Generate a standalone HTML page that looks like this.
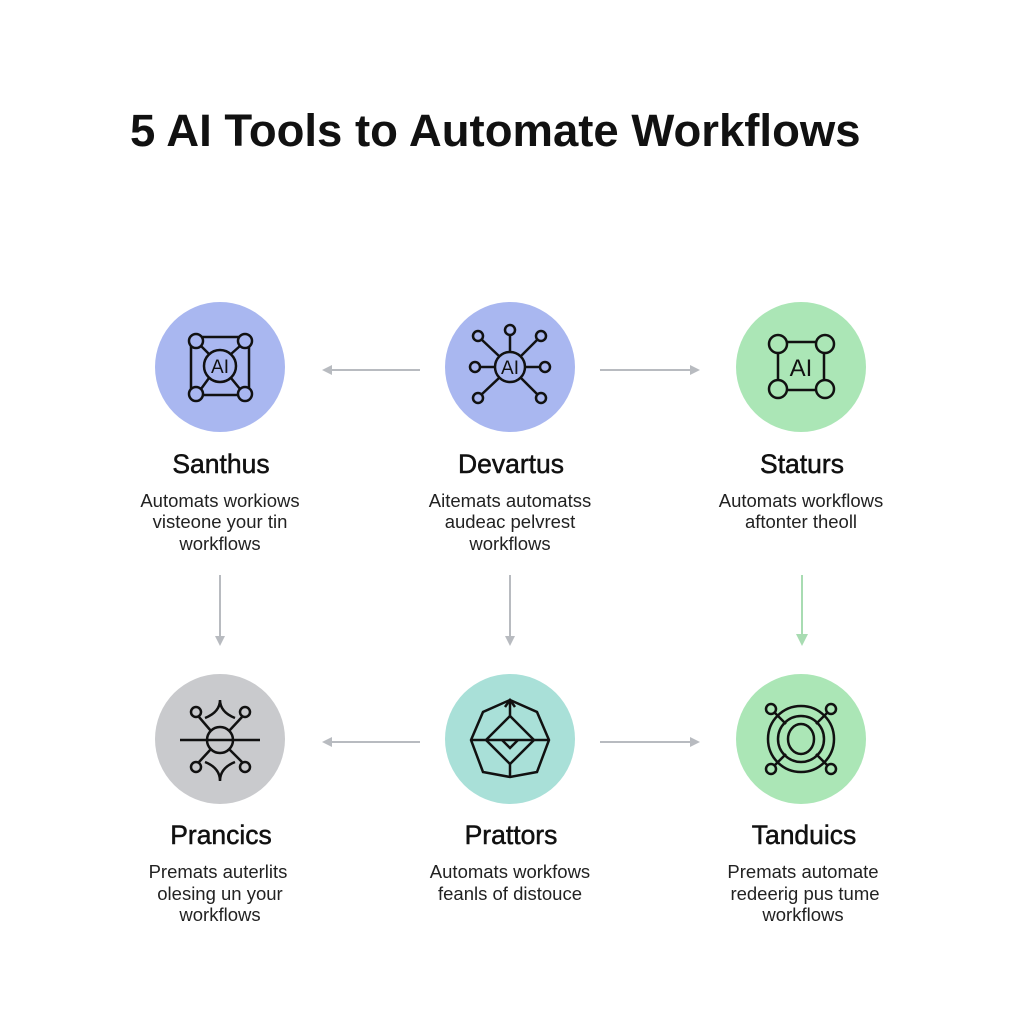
<!DOCTYPE html>
<html><head><meta charset="utf-8"><style>
body{margin:0;background:#fff;width:1024px;height:1024px;overflow:hidden}
svg{display:block}
text{font-family:"Liberation Sans",Arial,sans-serif}
</style></head><body>
<svg width="1024" height="1024" viewBox="0 0 1024 1024">
<defs>
<marker id="ag" markerWidth="10" markerHeight="10" refX="8" refY="5" orient="auto" markerUnits="userSpaceOnUse"><path d="M0,0 L10,5 L0,10 Z" fill="#b8bbc0"/></marker>
<marker id="agr" markerWidth="12" markerHeight="12" refX="10" refY="6" orient="auto" markerUnits="userSpaceOnUse"><path d="M0,0 L12,6 L0,12 Z" fill="#a8dcb2"/></marker>
</defs>
<text x="130" y="146" font-size="45.5" font-weight="bold" fill="#111">5 AI Tools to Automate Workflows</text>

<circle cx="220" cy="367" r="65" fill="#a9b7f0"/>
<circle cx="510" cy="367" r="65" fill="#a9b7f0"/>
<circle cx="801" cy="367" r="65" fill="#abe6b6"/>
<circle cx="220" cy="739" r="65" fill="#c9cacd"/>
<circle cx="510" cy="739" r="65" fill="#a9e0d8"/>
<circle cx="801" cy="739" r="65" fill="#abe6b6"/>

<g stroke="#b8bbc0" stroke-width="2" fill="none">
<line x1="420" y1="370" x2="324" y2="370" marker-end="url(#ag)"/>
<line x1="600" y1="370" x2="698" y2="370" marker-end="url(#ag)"/>
<line x1="420" y1="742" x2="324" y2="742" marker-end="url(#ag)"/>
<line x1="600" y1="742" x2="698" y2="742" marker-end="url(#ag)"/>
<line x1="220" y1="575" x2="220" y2="644" marker-end="url(#ag)"/>
<line x1="510" y1="575" x2="510" y2="644" marker-end="url(#ag)"/>
<line x1="802" y1="575" x2="802" y2="644" stroke="#a8dcb2" marker-end="url(#agr)"/>
</g>

<g stroke="#111" stroke-width="2.5" fill="none">
<rect x="191" y="337" width="58" height="58"/>
<circle cx="220" cy="366" r="16"/>
<circle cx="196" cy="341" r="7" fill="#a9b7f0"/><circle cx="245" cy="341" r="7" fill="#a9b7f0"/>
<circle cx="196" cy="394" r="7" fill="#a9b7f0"/><circle cx="245" cy="394" r="7" fill="#a9b7f0"/>
<line x1="201" y1="346" x2="209" y2="354"/><line x1="240" y1="346" x2="231" y2="354"/>
<line x1="201" y1="389" x2="209" y2="378"/><line x1="240" y1="389" x2="231" y2="378"/>
<circle cx="510" cy="367" r="15"/>
<line x1="510" y1="352" x2="510" y2="335"/><circle cx="510" cy="330" r="5"/>
<line x1="499" y1="356" x2="481" y2="339"/><circle cx="478" cy="336" r="5"/>
<line x1="521" y1="356" x2="538" y2="339"/><circle cx="541" cy="336" r="5"/>
<line x1="495" y1="367" x2="480" y2="367"/><circle cx="475" cy="367" r="5"/>
<line x1="525" y1="367" x2="540" y2="367"/><circle cx="545" cy="367" r="5"/>
<line x1="499" y1="378" x2="481" y2="395"/><circle cx="478" cy="398" r="5"/>
<line x1="521" y1="378" x2="538" y2="395"/><circle cx="541" cy="398" r="5"/>
<rect x="778" y="342" width="46" height="48"/>
<circle cx="778" cy="344" r="9" fill="#abe6b6"/><circle cx="825" cy="344" r="9" fill="#abe6b6"/>
<circle cx="778" cy="389" r="9" fill="#abe6b6"/><circle cx="825" cy="389" r="9" fill="#abe6b6"/>
<circle cx="220" cy="740" r="13"/>
<line x1="180" y1="740" x2="260" y2="740"/>
<circle cx="196" cy="712" r="5"/><circle cx="245" cy="712" r="5"/>
<circle cx="196" cy="767" r="5"/><circle cx="245" cy="767" r="5"/>
<line x1="199" y1="717" x2="211" y2="731"/><line x1="242" y1="717" x2="229" y2="731"/>
<line x1="199" y1="762" x2="211" y2="749"/><line x1="242" y1="762" x2="229" y2="749"/>
<path d="M205,718 Q220,712 220,700 Q220,712 235,718"/>
<path d="M205,762 Q220,768 220,781 Q220,768 235,762"/>
<polygon points="510,700 537,712 549,740 537,772 510,777 483,772 471,740 483,712"/>
<polygon points="510,716 534,740 510,764 486,740"/>
<line x1="471" y1="740" x2="549" y2="740"/>
<line x1="510" y1="700" x2="510" y2="716"/><line x1="510" y1="764" x2="510" y2="777"/>
<path d="M505,707 L510,700 L515,707"/><path d="M502,740 L510,748 L518,740"/>
<ellipse cx="801" cy="739" rx="33" ry="33"/>
<ellipse cx="801" cy="739" rx="23" ry="23"/>
<ellipse cx="801" cy="739" rx="13" ry="15"/>
<circle cx="771" cy="709" r="5"/><circle cx="831" cy="709" r="5"/>
<circle cx="771" cy="769" r="5"/><circle cx="831" cy="769" r="5"/>
<line x1="775" y1="713" x2="786" y2="724"/><line x1="827" y1="713" x2="816" y2="724"/>
<line x1="775" y1="765" x2="786" y2="754"/><line x1="827" y1="765" x2="816" y2="754"/>
</g>
<g font-size="19" fill="#111" text-anchor="middle">
<text x="220" y="373">AI</text>
<text x="510" y="374">AI</text>
<text x="801" y="376" font-size="24">AI</text>
</g>

<g text-anchor="middle" fill="#111">
<g font-size="26.5" stroke="#111" stroke-width="0.5">
<text x="221" y="473">Santhus</text>
<text x="511" y="473">Devartus</text>
<text x="802" y="473">Staturs</text>
<text x="221" y="844">Prancics</text>
<text x="511" y="844">Prattors</text>
<text x="804" y="844">Tanduics</text>
</g>
<g font-size="18.5" fill="#222">
<text x="220" y="507">Automats workiows</text>
<text x="220" y="528">visteone your tin</text>
<text x="220" y="550">workflows</text>
<text x="510" y="507">Aitemats automatss</text>
<text x="510" y="528">audeac pelvrest</text>
<text x="510" y="550">workflows</text>
<text x="801" y="507">Automats workflows</text>
<text x="801" y="528">aftonter theoll</text>
<text x="218" y="878">Premats auterlits</text>
<text x="220" y="900">olesing un your</text>
<text x="220" y="921">workflows</text>
<text x="510" y="878">Automats workfows</text>
<text x="510" y="900">feanls of distouce</text>
<text x="803" y="878">Premats automate</text>
<text x="805" y="900">redeerig pus tume</text>
<text x="803" y="921">workflows</text>
</g>
</g>
</svg>
</body></html>
